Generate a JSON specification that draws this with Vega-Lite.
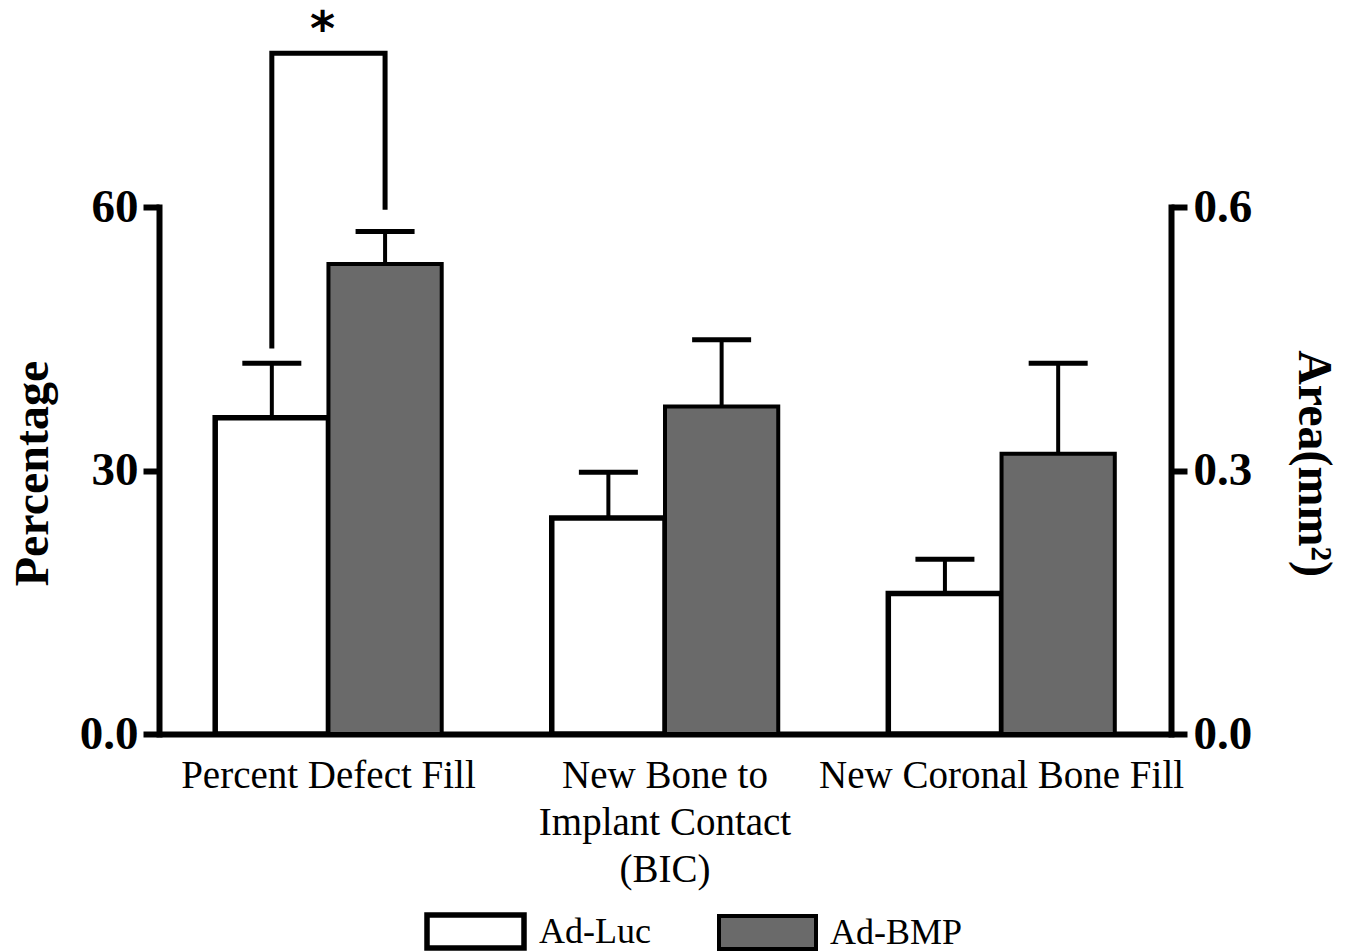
{
  "$schema": "https://vega.github.io/schema/vega-lite/v6.json",
  "width": 1012,
  "height": 527,
  "autosize": {"type": "none"},
  "padding": {"left": 159, "top": 207, "right": 182, "bottom": 218},
  "background": "white",
  "config": {"view": {"stroke": null}, "font": "Liberation Serif"},
  "datasets": {
    "bars": [
      {"measure": "Percent Defect Fill", "unit": "pct", "series": "Ad-Luc", "mean": 36.0, "upper": 42.2},
      {"measure": "Percent Defect Fill", "unit": "pct", "series": "Ad-BMP", "mean": 53.5, "upper": 57.2},
      {"measure": "New Bone to Implant Contact (BIC)", "unit": "pct", "series": "Ad-Luc", "mean": 24.6, "upper": 29.8},
      {"measure": "New Bone to Implant Contact (BIC)", "unit": "pct", "series": "Ad-BMP", "mean": 37.3, "upper": 44.9},
      {"measure": "New Coronal Bone Fill", "unit": "mm2", "series": "Ad-Luc", "mean": 0.160, "upper": 0.199},
      {"measure": "New Coronal Bone Fill", "unit": "mm2", "series": "Ad-BMP", "mean": 0.319, "upper": 0.422}
    ],
    "bracket": [
      {"measure": "Percent Defect Fill", "series": "Ad-Luc", "y": 43.9, "step": 1},
      {"measure": "Percent Defect Fill", "series": "Ad-Luc", "y": 77.5, "step": 2},
      {"measure": "Percent Defect Fill", "series": "Ad-BMP", "y": 77.5, "step": 3},
      {"measure": "Percent Defect Fill", "series": "Ad-BMP", "y": 59.7, "step": 4}
    ],
    "marker": [{"measure": "Percent Defect Fill", "label": "*", "y": 78.4}]
  },
  "encoding": {
    "x": {
      "field": "measure",
      "type": "nominal",
      "scale": {
        "domain": ["Percent Defect Fill", "New Bone to Implant Contact (BIC)", "New Coronal Bone Fill"],
        "paddingInner": 0.327,
        "paddingOuter": 0.167
      },
      "axis": {
        "title": null,
        "labelAngle": 0,
        "ticks": false,
        "domain": true,
        "domainColor": "black",
        "domainWidth": 6,
        "labelFont": "Liberation Serif",
        "labelFontSize": 39,
        "labelColor": "black",
        "labelPadding": 22,
        "labelLineHeight": 47,
        "labelBaseline": "top",
        "labelLimit": 600,
        "labelExpr": "datum.value === 'New Bone to Implant Contact (BIC)' ? ['New Bone to', 'Implant Contact', '(BIC)'] : datum.label"
      }
    }
  },
  "layer": [
    {
      "layer": [
        {
          "data": {"name": "bars"},
          "transform": [{"filter": "datum.unit === 'pct'"}],
          "mark": {"type": "bar", "stroke": "black"},
          "encoding": {
            "xOffset": {"field": "series", "type": "nominal", "scale": {"domain": ["Ad-Luc", "Ad-BMP"]}},
            "y": {
              "field": "mean",
              "type": "quantitative",
              "scale": {"domain": [0, 60], "nice": false, "zero": true},
              "axis": {
                "orient": "left",
                "title": "Percentage",
                "values": [0, 30, 60],
                "labelExpr": "datum.value === 0 ? '0.0' : datum.label",
                "grid": false,
                "domainColor": "black",
                "domainWidth": 6,
                "domainCap": "square",
                "tickColor": "black",
                "tickWidth": 6,
                "tickSize": 16,
                "labelFont": "Liberation Serif",
                "labelFontWeight": "bold",
                "labelFontSize": 47,
                "labelColor": "black",
                "labelPadding": 5,
                "titleFont": "Liberation Serif",
                "titleFontWeight": "bold",
                "titleFontSize": 48,
                "titleColor": "black",
                "titleX": -102,
                "titleY": 266
              }
            },
            "fill": {
              "field": "series",
              "type": "nominal",
              "scale": {"domain": ["Ad-Luc", "Ad-BMP"], "range": ["#ffffff", "#6a6a6a"]},
              "legend": {
                "orient": "none",
                "legendX": 265,
                "legendY": 673,
                "direction": "horizontal",
                "title": null,
                "symbolType": "M-1,-0.34H1V0.34H-1Z",
                "symbolSize": 9409,
                "symbolStrokeColor": "black",
                "symbolStrokeWidth": 4,
                "labelFont": "Liberation Serif",
                "labelFontSize": 36,
                "labelColor": "black",
                "labelOffset": 12,
                "columnPadding": 60,
                "padding": 0
              }
            },
            "strokeWidth": {
              "field": "series",
              "type": "nominal",
              "scale": {"domain": ["Ad-Luc", "Ad-BMP"], "range": [5.5, 4]},
              "legend": null
            }
          }
        },
        {
          "data": {"name": "bars"},
          "transform": [{"filter": "datum.unit === 'pct'"}],
          "mark": {"type": "rule", "color": "black", "strokeWidth": 4},
          "encoding": {
            "xOffset": {"field": "series", "type": "nominal"},
            "y": {"field": "mean", "type": "quantitative"},
            "y2": {"field": "upper"}
          }
        },
        {
          "data": {"name": "bars"},
          "transform": [{"filter": "datum.unit === 'pct'"}],
          "mark": {"type": "tick", "color": "black", "opacity": 1, "thickness": 5, "size": 59},
          "encoding": {
            "xOffset": {"field": "series", "type": "nominal"},
            "y": {"field": "upper", "type": "quantitative"}
          }
        },
        {
          "data": {"name": "bracket"},
          "mark": {"type": "line", "color": "black", "strokeWidth": 5, "strokeJoin": "miter", "strokeCap": "butt"},
          "encoding": {
            "xOffset": {"field": "series", "type": "nominal"},
            "y": {"field": "y", "type": "quantitative"},
            "order": {"field": "step", "type": "quantitative"}
          }
        },
        {
          "data": {"name": "marker"},
          "mark": {"type": "text", "font": "DejaVu Sans", "fontWeight": "bold", "fontSize": 48, "baseline": "alphabetic", "align": "center", "color": "black", "dx": -6},
          "encoding": {
            "y": {"field": "y", "type": "quantitative"},
            "text": {"field": "label"}
          }
        }
      ]
    },
    {
      "layer": [
        {
          "data": {"name": "bars"},
          "transform": [{"filter": "datum.unit === 'mm2'"}],
          "mark": {"type": "bar", "stroke": "black"},
          "encoding": {
            "xOffset": {"field": "series", "type": "nominal"},
            "y": {
              "field": "mean",
              "type": "quantitative",
              "scale": {"domain": [0, 0.6], "nice": false, "zero": true},
              "axis": {
                "orient": "right",
                "title": "Area(mm²)",
                "values": [0, 0.3, 0.6],
                "format": ".1f",
                "grid": false,
                "domainColor": "black",
                "domainWidth": 6,
                "domainCap": "square",
                "tickColor": "black",
                "tickWidth": 6,
                "tickSize": 16,
                "labelFont": "Liberation Serif",
                "labelFontWeight": "bold",
                "labelFontSize": 47,
                "labelColor": "black",
                "labelPadding": 6,
                "titleFont": "Liberation Serif",
                "titleFontWeight": "bold",
                "titleFontSize": 48,
                "titleColor": "black",
                "titleX": 117,
                "titleY": 256
              }
            },
            "fill": {"field": "series", "type": "nominal"},
            "strokeWidth": {"field": "series", "type": "nominal", "legend": null}
          }
        },
        {
          "data": {"name": "bars"},
          "transform": [{"filter": "datum.unit === 'mm2'"}],
          "mark": {"type": "rule", "color": "black", "strokeWidth": 4},
          "encoding": {
            "xOffset": {"field": "series", "type": "nominal"},
            "y": {"field": "mean", "type": "quantitative"},
            "y2": {"field": "upper"}
          }
        },
        {
          "data": {"name": "bars"},
          "transform": [{"filter": "datum.unit === 'mm2'"}],
          "mark": {"type": "tick", "color": "black", "opacity": 1, "thickness": 5, "size": 59},
          "encoding": {
            "xOffset": {"field": "series", "type": "nominal"},
            "y": {"field": "upper", "type": "quantitative"}
          }
        }
      ]
    }
  ],
  "resolve": {"scale": {"y": "independent"}}
}
